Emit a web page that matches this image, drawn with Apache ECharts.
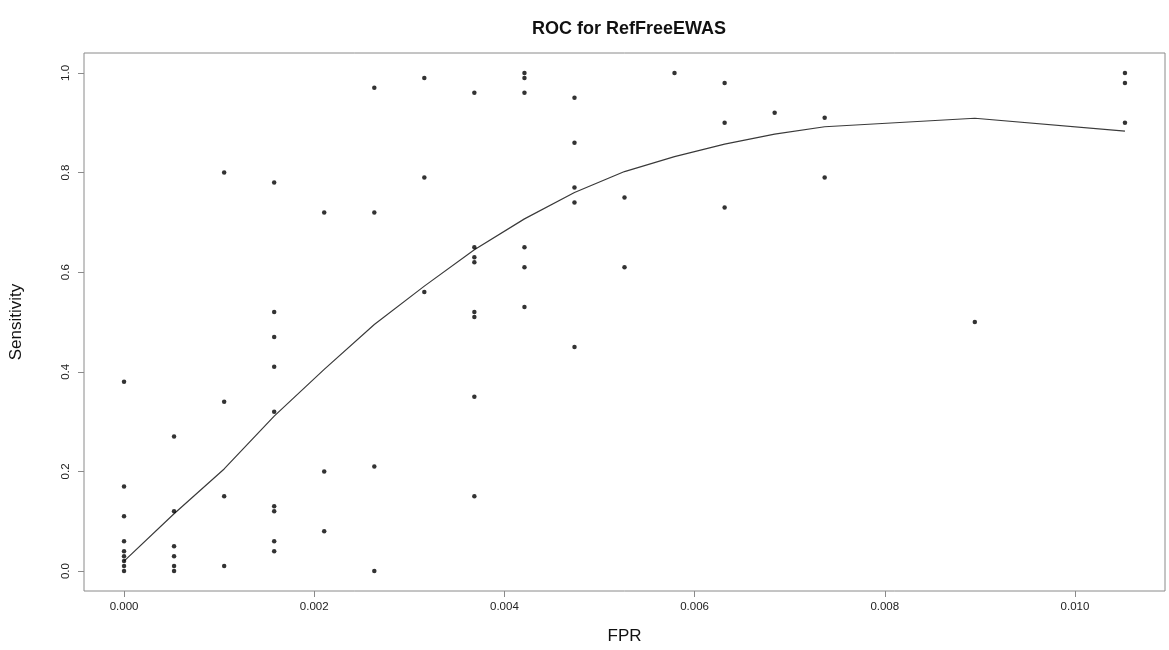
<!DOCTYPE html>
<html>
<head>
<meta charset="utf-8">
<title>ROC for RefFreeEWAS</title>
<script src="https://cdn.jsdelivr.net/npm/echarts@6/dist/echarts.min.js"></script>
<style>
  html, body { margin: 0; padding: 0; background: #ffffff; }
  #chart { width: 1169px; height: 650px; }
</style>
</head>
<body>
<div id="chart"></div>
<script>
// Distinct false-positive-rate levels observed across runs
const fprLevels = [0, 0.000526, 0.001053, 0.001579, 0.002105, 0.002632, 0.003158,
  0.003684, 0.004211, 0.004737, 0.005263, 0.005789, 0.006316, 0.006842, 0.007368,
  0.008947, 0.010526];

// Sensitivity values recorded at each FPR level
const sensByLevel = [
  [0.38, 0.17, 0.11, 0.06, 0.04, 0.03, 0.02, 0.01, 0.00],
  [0.27, 0.12, 0.05, 0.03, 0.01, 0.00],
  [0.80, 0.34, 0.15, 0.01],
  [0.78, 0.52, 0.47, 0.41, 0.32, 0.13, 0.12, 0.06, 0.04],
  [0.72, 0.20, 0.08],
  [0.97, 0.72, 0.21, 0.00],
  [0.99, 0.79, 0.56],
  [0.96, 0.65, 0.63, 0.62, 0.52, 0.51, 0.35, 0.15],
  [1.00, 0.99, 0.96, 0.65, 0.61, 0.53],
  [0.95, 0.86, 0.77, 0.74, 0.45],
  [0.75, 0.61],
  [1.00],
  [0.98, 0.90, 0.73],
  [0.92],
  [0.91, 0.79],
  [0.50],
  [1.00, 0.98, 0.90]
];

// Smoothed ROC curve evaluated at each FPR level
const fitSens = [0.020, 0.115, 0.205, 0.311, 0.405, 0.495, 0.572, 0.645, 0.707,
  0.760, 0.802, 0.832, 0.857, 0.877, 0.892, 0.909, 0.883];

// Axis tick labels
const xTicks = [0, 0.002, 0.004, 0.006, 0.008, 0.010];
const yTicks = [0, 0.2, 0.4, 0.6, 0.8, 1.0];

const points = [];
fprLevels.forEach((fpr, i) => {
  sensByLevel[i].forEach(s => points.push([fpr, s]));
});
const curve = fprLevels.map((fpr, i) => [fpr, fitSens[i]]);

// Axis ranges padded by 4% of the data range on each side
const xMin = -0.000421, xMax = 0.010947;
const yMin = -0.04, yMax = 1.04;

const axisGray = '#8a8a8a';
const font = '"Liberation Sans", Arial, sans-serif';

const chart = echarts.init(document.getElementById('chart'), null, { renderer: 'canvas' });
chart.setOption({
  animation: false,
  backgroundColor: '#ffffff',
  title: {
    text: 'ROC for RefFreeEWAS',
    left: 624,
    top: 15,
    textAlign: 'center',
    textStyle: { fontFamily: font, fontSize: 18, fontWeight: 'bold', color: '#111' }
  },
  grid: {
    left: 84, right: 4, top: 53, bottom: 59,
    outerBoundsMode: 'none',
    containLabel: false,
    show: true, borderColor: axisGray, borderWidth: 1, backgroundColor: 'transparent'
  },
  xAxis: {
    type: 'value',
    min: xMin, max: xMax,
    name: 'FPR',
    nameLocation: 'middle',
    nameGap: 37,
    nameTextStyle: { fontFamily: font, fontSize: 17, color: '#111' },
    axisLine: { show: false, onZero: false },
    splitLine: { show: false },
    axisTick: { show: true, inside: false, length: 6, customValues: xTicks, lineStyle: { color: axisGray } },
    axisLabel: {
      customValues: xTicks,
      margin: 10,
      fontFamily: font, fontSize: 11.5, color: '#222',
      formatter: v => v.toFixed(3)
    }
  },
  yAxis: {
    type: 'value',
    min: yMin, max: yMax,
    name: 'Sensitivity',
    nameLocation: 'middle',
    nameGap: 59,
    nameRotate: 90,
    nameTextStyle: { fontFamily: font, fontSize: 17, color: '#111' },
    axisLine: { show: false, onZero: false },
    splitLine: { show: false },
    axisTick: { show: true, inside: false, length: 6, customValues: yTicks, lineStyle: { color: axisGray } },
    axisLabel: {
      customValues: yTicks,
      rotate: 90,
      margin: 12,
      fontFamily: font, fontSize: 11.5, color: '#222',
      formatter: v => v.toFixed(1)
    }
  },
  series: [
    {
      type: 'scatter',
      data: points,
      symbol: 'circle',
      symbolSize: 4.5,
      itemStyle: { color: '#000' },
      z: 3
    },
    {
      type: 'line',
      data: curve,
      showSymbol: false,
      smooth: false,
      lineStyle: { color: '#3a3a3a', width: 1.2 },
      z: 2
    }
  ]
});
</script>
</body>
</html>
